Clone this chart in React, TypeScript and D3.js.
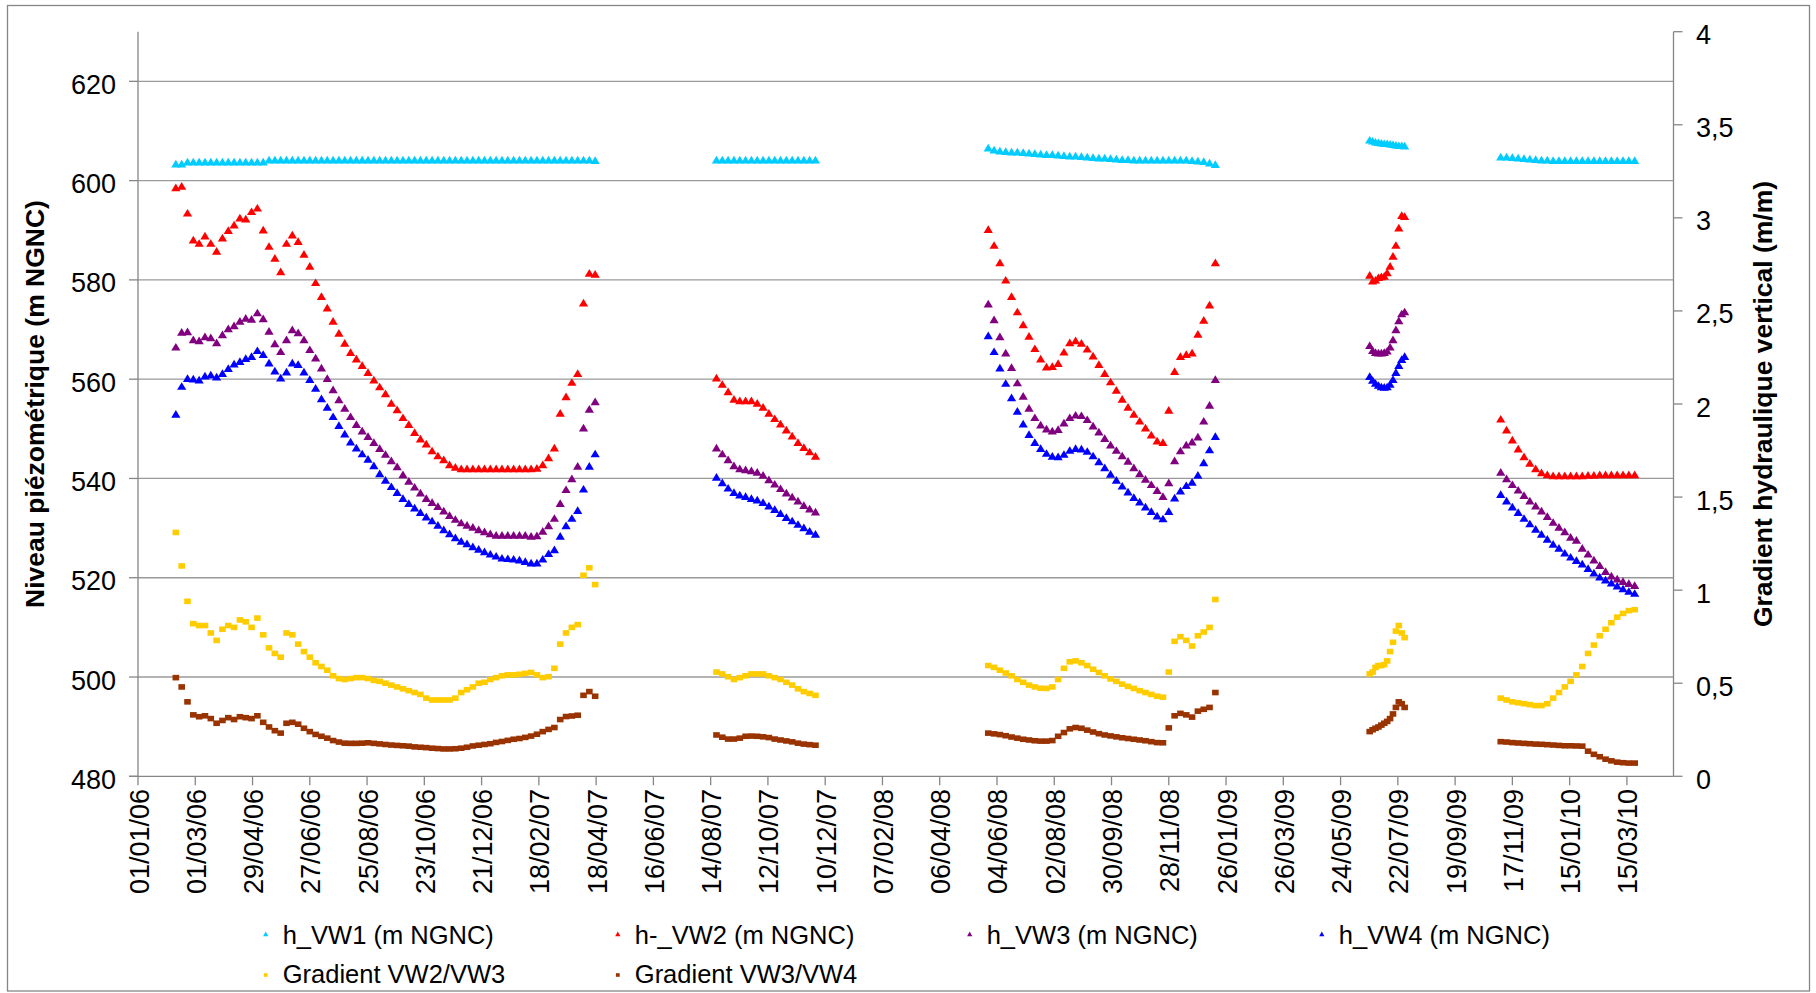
import React from "react";
import * as d3 from "d3";

// ---------- DATA ----------
// Each series is split into 5 measurement campaigns (segments).
const SEG_START = ["2006-02-09", "2007-08-20", "2008-05-26", "2009-06-23", "2009-11-05"];
const SEG_STEP_DAYS = [6, 6, 6, 3, 6];

const X_TICK_LABELS = [
  "01/01/06", "01/03/06", "29/04/06", "27/06/06", "25/08/06", "23/10/06", "21/12/06",
  "18/02/07", "18/04/07", "16/06/07", "14/08/07", "12/10/07", "10/12/07", "07/02/08",
  "06/04/08", "04/06/08", "02/08/08", "30/09/08", "28/11/08", "26/01/09", "26/03/09",
  "24/05/09", "22/07/09", "19/09/09", "17/11/09", "15/01/10", "15/03/10",
];
const Y_LEFT_TICKS = [480, 500, 520, 540, 560, 580, 600, 620];
const Y_RIGHT_TICKS = [0, 0.5, 1, 1.5, 2, 2.5, 3, 3.5, 4];

const H_VW1 = [
  [603.4, 603.4, 603.8, 603.8, 603.8, 603.8, 603.8, 603.8, 603.8, 603.8,
   603.8, 603.8, 603.8, 603.8, 603.8, 603.8, 604.2, 604.2, 604.2, 604.2,
   604.2, 604.2, 604.2, 604.2, 604.2, 604.2, 604.2, 604.2, 604.2, 604.2,
   604.2, 604.2, 604.2, 604.2, 604.2, 604.2, 604.2, 604.2, 604.2, 604.2,
   604.2, 604.2, 604.2, 604.2, 604.2, 604.2, 604.2, 604.2, 604.2, 604.2,
   604.2, 604.2, 604.2, 604.2, 604.2, 604.2, 604.2, 604.2, 604.2, 604.2,
   604.2, 604.2, 604.2, 604.2, 604.2, 604.2, 604.2, 604.2, 604.2, 604.2,
   604.2, 604.2, 604.1],
  [604.2, 604.2, 604.2, 604.2, 604.2, 604.2, 604.2, 604.2, 604.2, 604.2,
   604.2, 604.2, 604.2, 604.2, 604.2, 604.2, 604.2, 604.2],
  [606.6, 606.2, 606.0, 605.9, 605.8, 605.8, 605.7, 605.6, 605.5, 605.4,
   605.3, 605.3, 605.2, 605.1, 605.0, 605.0, 604.9, 604.8, 604.7, 604.6,
   604.6, 604.5, 604.4, 604.3, 604.3, 604.2, 604.2, 604.2, 604.2, 604.2,
   604.2, 604.2, 604.2, 604.2, 604.2, 604.1, 604.0, 603.9, 603.6, 603.3],
  [608.2, 608.0, 607.8, 607.7, 607.6, 607.5, 607.5, 607.4, 607.3, 607.2, 607.1, 607.1, 607.0],
  [604.8, 604.8, 604.7, 604.6, 604.5, 604.4, 604.3, 604.2, 604.2, 604.1,
   604.1, 604.1, 604.1, 604.1, 604.1, 604.1, 604.1, 604.1, 604.1, 604.1,
   604.1, 604.1, 604.1, 604.1],
];

const H_VW2 = [
  [598.6, 598.9, 593.5, 588.1, 587.4, 588.9, 587.4, 585.8, 588.5, 590.0,
   591.1, 592.5, 592.3, 593.8, 594.5, 590.1, 586.8, 584.4, 581.7, 587.4,
   589.1, 587.8, 585.2, 582.8, 579.5, 576.7, 574.4, 571.7, 569.3, 567.3,
   565.4, 564.1, 562.8, 561.4, 559.9, 558.5, 557.1, 555.2, 553.9, 552.3,
   550.9, 549.3, 548.0, 547.0, 545.6, 544.6, 543.8, 542.8, 542.3, 542.0,
   542.0, 542.0, 542.0, 542.0, 542.0, 542.0, 542.0, 542.0, 542.0, 542.0,
   542.0, 542.0, 542.1, 542.8, 544.2, 546.2, 553.2, 556.5, 559.4, 561.2,
   575.4, 581.4, 581.2],
  [560.3, 559.0, 557.5, 556.0, 555.7, 555.7, 555.7, 555.2, 554.4, 553.2,
   552.1, 551.0, 549.8, 548.6, 547.3, 546.3, 545.4, 544.5],
  [590.2, 587.0, 583.5, 580.0, 576.7, 573.6, 571.0, 568.7, 566.2, 564.1,
   562.5, 562.6, 563.2, 565.5, 567.4, 567.8, 567.3, 566.1, 564.7, 563.0,
   561.2, 559.5, 557.8, 556.0, 554.4, 553.0, 551.6, 550.2, 548.8, 547.6,
   547.3, 553.8, 561.6, 564.6, 565.0, 565.3, 569.1, 571.9, 575.0, 583.5],
  [581.0, 579.8, 580.0, 580.5, 580.7, 580.8, 581.5, 582.8, 584.8, 587.0, 590.5, 593.0, 592.8],
  [552.0, 549.8, 547.8, 546.0, 544.4, 543.1, 542.0, 541.2, 540.8, 540.6,
   540.6, 540.6, 540.6, 540.6, 540.6, 540.7, 540.7, 540.8, 540.8, 540.8,
   540.8, 540.8, 540.8, 540.8],
];

const H_VW3 = [
  [566.5, 569.5, 569.6, 568.0, 567.8, 568.6, 568.4, 567.4, 569.0, 570.2,
   570.8, 571.7, 572.3, 572.1, 573.4, 572.2, 569.7, 567.2, 565.6, 568.0,
   570.0, 569.4, 568.0, 566.0, 564.3, 562.3, 560.2, 557.9, 555.9, 554.2,
   552.5, 550.9, 549.6, 548.5, 547.3, 546.1, 544.9, 543.6, 542.4, 540.8,
   539.5, 538.3, 537.1, 536.0, 535.2, 534.4, 533.5, 532.6, 531.8, 531.1,
   530.6, 530.2, 529.7, 529.3, 528.9, 528.6, 528.6, 528.6, 528.6, 528.6,
   528.6, 528.4, 528.5, 529.4, 530.5, 532.0, 535.0, 537.8, 540.0, 542.5,
   550.2, 554.0, 555.5],
  [546.2, 545.0, 543.8, 542.6, 542.0, 541.8, 541.6, 541.3, 540.7, 539.8,
   538.9, 538.0, 537.1, 536.3, 535.5, 534.6, 533.9, 533.3],
  [575.2, 572.0, 568.6, 565.3, 562.4, 559.3, 556.6, 554.2, 552.3, 550.8,
   550.0, 549.6, 549.9, 551.2, 552.3, 552.8, 552.7, 551.9, 550.6, 549.4,
   548.1, 546.8, 545.7, 544.6, 543.5, 542.2, 541.0, 539.9, 538.8, 537.6,
   536.4, 539.2, 543.6, 545.6, 546.8, 547.4, 548.4, 551.6, 554.8, 560.0],
  [566.8, 565.8, 565.4, 565.3, 565.3, 565.4, 565.7, 566.5, 568.0, 570.0, 571.8, 573.2, 573.6],
  [541.3, 540.0, 538.8, 537.7, 536.6, 535.5, 534.5, 533.5, 532.4, 531.2,
   530.2, 529.3, 528.2, 527.6, 526.0, 524.8, 523.6, 522.5, 521.3, 520.4,
   519.8, 519.3, 518.9, 518.5],
];

const H_VW4 = [
  [553.0, 558.6, 560.2, 560.1, 559.9, 560.7, 560.9, 560.5, 561.2, 562.2,
   563.1, 563.6, 564.2, 564.6, 565.8, 565.0, 563.3, 561.7, 560.3, 561.5,
   563.3, 563.0, 561.5, 560.0, 558.2, 556.1, 554.4, 552.5, 550.7, 549.0,
   547.4, 546.2, 545.0, 543.9, 542.6, 541.0, 539.7, 538.4, 537.2, 536.0,
   535.0, 534.1, 533.2, 532.3, 531.5, 530.6, 529.7, 528.9, 528.1, 527.4,
   526.9, 526.3, 525.8, 525.3, 524.8, 524.4, 524.0, 523.9, 523.8, 523.6,
   523.3, 523.0, 523.0, 523.8, 524.9, 525.7, 528.4, 530.5, 532.0, 533.6,
   537.9, 542.5, 545.0],
  [540.3, 539.2, 538.1, 537.2, 536.7, 536.4, 536.0, 535.7, 535.2, 534.5,
   533.8, 533.0, 532.2, 531.5, 530.8, 530.1, 529.4, 528.8],
  [568.8, 565.6, 562.3, 559.2, 556.3, 553.6, 551.0, 548.9, 547.3, 546.1,
   545.1, 544.5, 544.4, 544.9, 545.7, 546.1, 546.0, 545.5, 544.6, 543.4,
   542.2, 540.9, 539.7, 538.5, 537.3, 536.2, 535.3, 534.3, 533.4, 532.5,
   531.9, 533.4, 536.1, 537.5, 538.6, 539.3, 540.7, 543.2, 545.8, 548.5],
  [560.6, 559.8, 559.2, 558.8, 558.5, 558.4, 558.5, 559.0, 560.0, 561.4, 562.8, 564.0, 564.6],
  [536.8, 535.5, 534.3, 533.2, 532.0, 530.9, 529.8, 528.8, 527.8, 526.8,
   526.0, 525.0, 524.2, 523.5, 522.8, 521.9, 521.0, 520.2, 519.6, 519.0,
   518.4, 517.8, 517.3, 516.9],
];

const GRAD_23 = [
  [1.31, 1.13, 0.94, 0.82, 0.81, 0.81, 0.77, 0.73, 0.79, 0.81,
   0.80, 0.84, 0.83, 0.80, 0.85, 0.76, 0.69, 0.66, 0.64, 0.77,
   0.76, 0.71, 0.67, 0.64, 0.61, 0.59, 0.57, 0.54, 0.525, 0.52,
   0.525, 0.53, 0.53, 0.525, 0.515, 0.51, 0.50, 0.49, 0.48, 0.47,
   0.46, 0.45, 0.44, 0.42, 0.41, 0.41, 0.41, 0.41, 0.42, 0.45,
   0.465, 0.48, 0.50, 0.505, 0.52, 0.53, 0.54, 0.545, 0.545, 0.548,
   0.553, 0.558, 0.545, 0.53, 0.535, 0.58, 0.71, 0.77, 0.80, 0.815,
   1.08, 1.12, 1.03],
  [0.56, 0.55, 0.535, 0.52, 0.53, 0.54, 0.55, 0.55, 0.55, 0.54,
   0.53, 0.52, 0.505, 0.49, 0.47, 0.455, 0.445, 0.435],
  [0.595, 0.585, 0.57, 0.555, 0.54, 0.52, 0.505, 0.49, 0.48, 0.473,
   0.472, 0.48, 0.52, 0.58, 0.615, 0.62, 0.61, 0.595, 0.575, 0.558,
   0.54, 0.523, 0.51, 0.495, 0.483, 0.472, 0.46, 0.45, 0.44, 0.43,
   0.425, 0.56, 0.725, 0.75, 0.73, 0.70, 0.755, 0.775, 0.80, 0.95],
  [0.55, 0.56, 0.585, 0.595, 0.595, 0.60, 0.62, 0.67, 0.72, 0.78, 0.81, 0.77, 0.745],
  [0.42, 0.41, 0.40, 0.395, 0.39, 0.385, 0.38, 0.38, 0.39, 0.42,
   0.45, 0.48, 0.51, 0.545, 0.59, 0.66, 0.705, 0.755, 0.79, 0.825,
   0.855, 0.875, 0.89, 0.895],
];

const GRAD_34 = [
  [0.53, 0.48, 0.40, 0.33, 0.32, 0.325, 0.31, 0.285, 0.30, 0.315,
   0.305, 0.32, 0.315, 0.31, 0.325, 0.29, 0.265, 0.245, 0.232, 0.285,
   0.29, 0.28, 0.258, 0.240, 0.225, 0.215, 0.205, 0.192, 0.184, 0.178,
   0.177, 0.177, 0.178, 0.180, 0.177, 0.174, 0.171, 0.168, 0.166, 0.164,
   0.162, 0.158, 0.156, 0.154, 0.151, 0.149, 0.147, 0.147, 0.148, 0.151,
   0.156, 0.163, 0.167, 0.171, 0.175, 0.182, 0.187, 0.193, 0.199, 0.203,
   0.209, 0.216, 0.226, 0.240, 0.252, 0.262, 0.305, 0.321, 0.324, 0.328,
   0.435, 0.455, 0.43],
  [0.222, 0.21, 0.20, 0.20, 0.205, 0.215, 0.216, 0.215, 0.212, 0.208,
   0.20, 0.195, 0.19, 0.185, 0.178, 0.173, 0.17, 0.167],
  [0.232, 0.228, 0.224, 0.218, 0.211, 0.205, 0.199, 0.195, 0.191, 0.189,
   0.189, 0.192, 0.215, 0.235, 0.255, 0.262, 0.258, 0.248, 0.238, 0.229,
   0.222, 0.217, 0.212, 0.207, 0.203, 0.199, 0.195, 0.191, 0.186, 0.181,
   0.18, 0.26, 0.325, 0.338, 0.330, 0.318, 0.35, 0.36, 0.37, 0.45],
  [0.24, 0.25, 0.258, 0.265, 0.275, 0.285, 0.295, 0.31, 0.335, 0.37, 0.40, 0.39, 0.37],
  [0.186, 0.184, 0.181, 0.179, 0.177, 0.175, 0.173, 0.172, 0.170, 0.168,
   0.166, 0.164, 0.164, 0.163, 0.162, 0.135, 0.118, 0.105, 0.092, 0.083,
   0.076, 0.073, 0.071, 0.071],
];

const SERIES_NAMES = [
  "h_VW1 (m NGNC)", "h-_VW2 (m NGNC)", "h_VW3 (m NGNC)", "h_VW4 (m NGNC)",
  "Gradient VW2/VW3", "Gradient VW3/VW4",
];
const SERIES_COLORS = ["#00CCFF", "#FF0000", "#800080", "#0000FF", "#FFCC00", "#993300"];

// ---------- HELPERS ----------
const parseIso = d3.utcParse("%Y-%m-%d");
const parseTick = d3.utcParse("%d/%m/%y");
const ORIGIN = parseIso("2006-01-01") as Date;
const X_END = d3.utcDay.offset(ORIGIN, 1582);

type Pt = { date: Date; v: number };
function toPoints(segs: number[][]): Pt[] {
  const out: Pt[] = [];
  segs.forEach((vals, s) => {
    const start = parseIso(SEG_START[s]) as Date;
    vals.forEach((v, i) => out.push({ date: d3.utcDay.offset(start, i * SEG_STEP_DAYS[s]), v }));
  });
  return out;
}

const FONT = "'Liberation Sans', Arial, sans-serif";
const AXIS_COLOR = "#868686";
const GRID_COLOR = "#9a9a9a";

export default function App() {
  const W = 1816, H = 993;
  const L = 138, R = 1673.5, T = 31.7, B = 776.3;

  const x = d3.scaleUtc().domain([ORIGIN, X_END]).range([L, R]);
  const yL = d3.scaleLinear().domain([480, 630]).range([B, T]);
  const yR = d3.scaleLinear().domain([0, 4]).range([B, T]);

  const series = [
    { data: toPoints(H_VW1), y: yL, shape: "tri" },
    { data: toPoints(H_VW2), y: yL, shape: "tri" },
    { data: toPoints(H_VW3), y: yL, shape: "tri" },
    { data: toPoints(H_VW4), y: yL, shape: "tri" },
    { data: toPoints(GRAD_23), y: yR, shape: "sq" },
    { data: toPoints(GRAD_34), y: yR, shape: "sq" },
  ];

  const triPath = "M-4.6,3.7L0,-4L4.6,3.7Z";
  const sqPath = "M-3.3,-2.8H3.3V2.8H-3.3Z";
  const triLegend = "M-2.6,2.2L0,-2.4L2.6,2.2Z";
  const sqLegend = "M-1.9,-1.8H1.9V1.8H-1.9Z";

  const fmtR = (v: number) => String(v).replace(".", ",");

  const legendCols = [265.7, 617.8, 969.7, 1321.8];
  const legendRows = [{ my: 934, ty: 944 }, { my: 975, ty: 982.5 }];

  return (
    <svg
      width={W}
      height={H}
      style={{ position: "absolute", left: 0, top: 0, background: "#fff" }}
      fontFamily={FONT}
    >
      <rect x={0} y={0} width={W} height={H} fill="#fff" />
      <rect x={7.5} y={5.5} width={1802} height={985.5} fill="none" stroke={AXIS_COLOR} strokeWidth={1.3} />

      {/* gridlines */}
      {Y_LEFT_TICKS.filter((v) => v > 480).map((v) => (
        <line key={"g" + v} x1={L} x2={R} y1={yL(v)} y2={yL(v)} stroke={GRID_COLOR} strokeWidth={1.3} />
      ))}

      {/* axes */}
      <line x1={L} x2={L} y1={T} y2={B} stroke={AXIS_COLOR} strokeWidth={1.3} />
      <line x1={R} x2={R} y1={T} y2={B} stroke={AXIS_COLOR} strokeWidth={1.3} />
      <line x1={L - 9} x2={R} y1={B} y2={B} stroke={AXIS_COLOR} strokeWidth={1.3} />

      {/* left ticks */}
      {Y_LEFT_TICKS.map((v) => (
        <g key={"yl" + v}>
          <line x1={L - 9} x2={L} y1={yL(v)} y2={yL(v)} stroke={AXIS_COLOR} strokeWidth={1.3} />
          <text x={116} y={yL(v) + 12.5} textAnchor="end" fontSize={27} fill="#000">
            {v}
          </text>
        </g>
      ))}

      {/* right ticks */}
      {Y_RIGHT_TICKS.map((v) => (
        <g key={"yr" + v}>
          <line x1={R} x2={R + 9} y1={yR(v)} y2={yR(v)} stroke={AXIS_COLOR} strokeWidth={1.3} />
          <text x={1696} y={yR(v) + 12.5} textAnchor="start" fontSize={27} fill="#000">
            {fmtR(v)}
          </text>
        </g>
      ))}

      {/* x ticks */}
      {X_TICK_LABELS.map((lab) => {
        const px = x(parseTick(lab) as Date);
        return (
          <g key={"xt" + lab}>
            <line x1={px} x2={px} y1={B} y2={B + 9} stroke={AXIS_COLOR} strokeWidth={1.3} />
            <text
              transform={`translate(${px},789) rotate(-90)`}
              y={10.5}
              textAnchor="end"
              fontSize={27}
              fill="#000"
            >
              {lab}
            </text>
          </g>
        );
      })}

      {/* series */}
      {series.map((s, si) => (
        <g key={"s" + si} fill={SERIES_COLORS[si]}>
          {s.data.map((p, i) => (
            <path
              key={i}
              d={s.shape === "tri" ? triPath : sqPath}
              transform={`translate(${x(p.date).toFixed(2)},${s.y(p.v).toFixed(2)})`}
            />
          ))}
        </g>
      ))}

      {/* axis titles */}
      <text
        transform={`translate(44.4,${(T + B) / 2}) rotate(-90)`}
        textAnchor="middle"
        fontSize={26.5}
        fontWeight="bold"
        fill="#000"
      >
        Niveau piézométrique (m NGNC)
      </text>
      <text
        transform={`translate(1772,${(T + B) / 2}) rotate(-90)`}
        textAnchor="middle"
        fontSize={26.5}
        fontWeight="bold"
        fill="#000"
      >
        Gradient hydraulique vertical (m/m)
      </text>

      {/* legend */}
      {SERIES_NAMES.map((name, i) => {
        const row = i < 4 ? 0 : 1;
        const col = i < 4 ? i : i - 4;
        const mx = legendCols[col];
        const { my, ty } = legendRows[row];
        return (
          <g key={"lg" + i}>
            <path d={i < 4 ? triLegend : sqLegend} transform={`translate(${mx},${my})`} fill={SERIES_COLORS[i]} />
            <text x={mx + 17} y={ty} fontSize={25.5} fill="#000">
              {name}
            </text>
          </g>
        );
      })}
    </svg>
  );
}
